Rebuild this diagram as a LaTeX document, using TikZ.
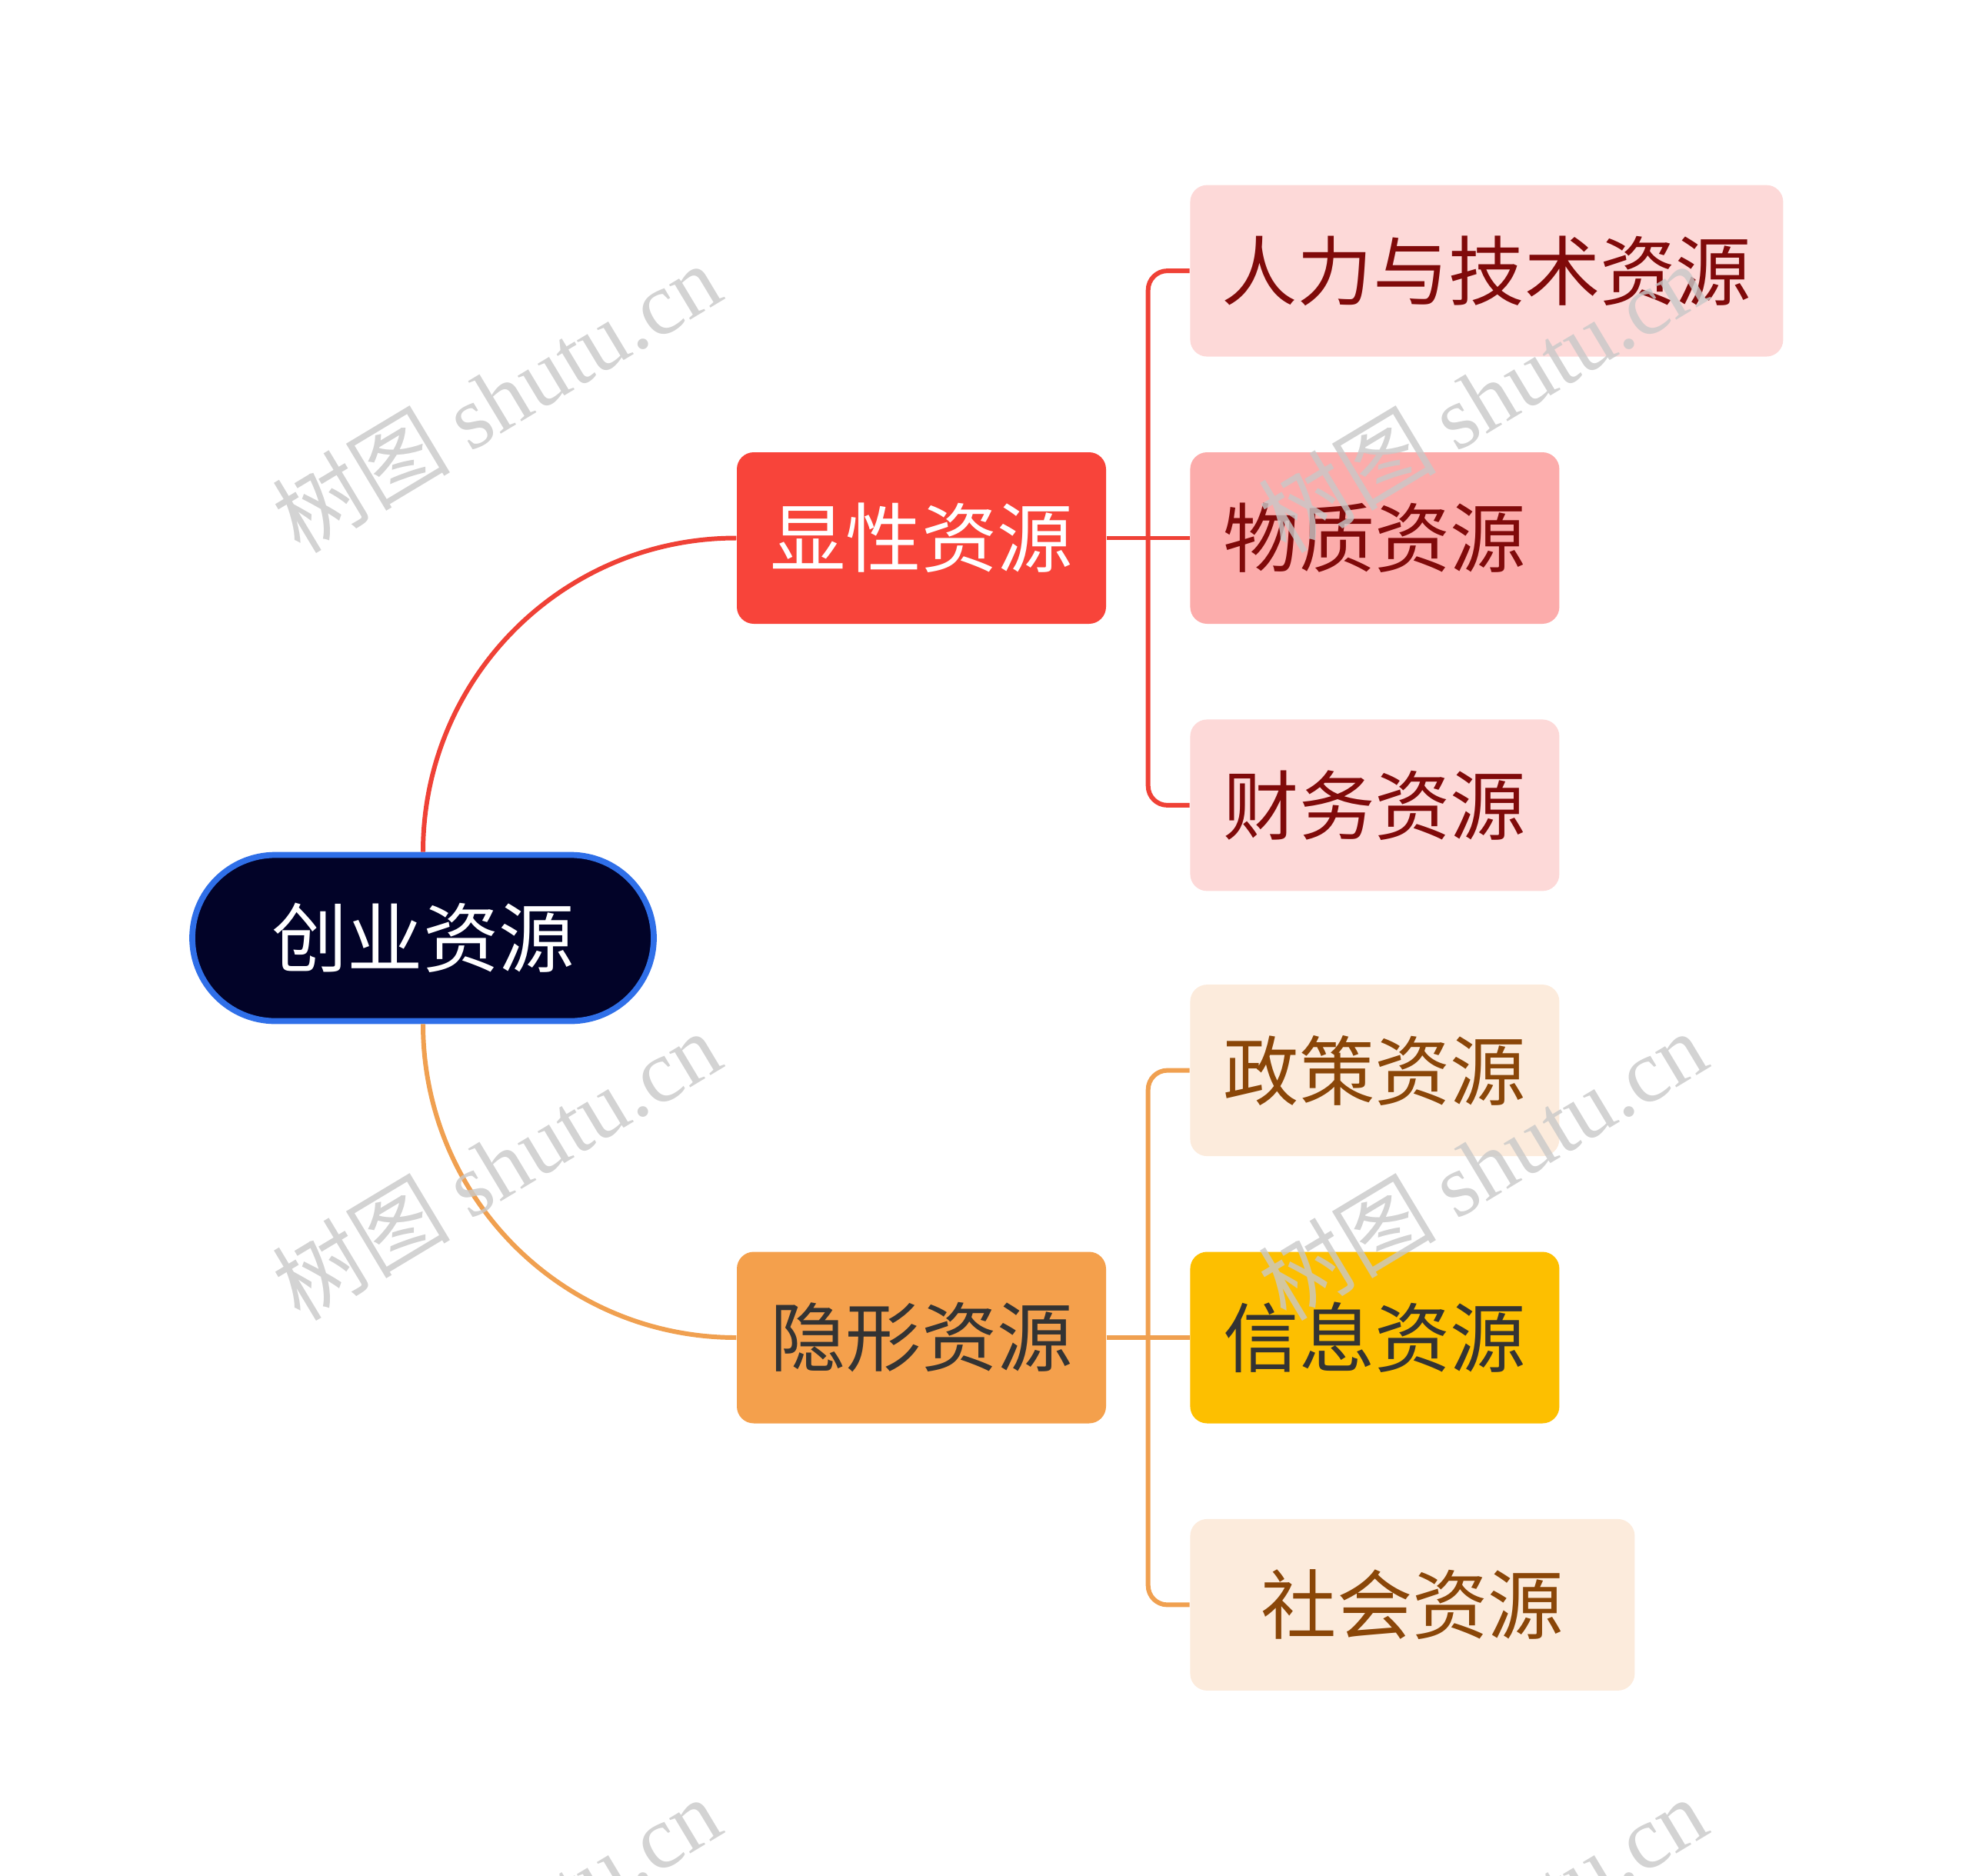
\documentclass[tikz,border=0pt]{standalone}
\usepackage{fontspec}
\setmainfont{Noto Sans CJK SC}
\newfontfamily\markfont{Liberation Serif}
\usetikzlibrary{positioning, calc}

\definecolor{rootnavy}{HTML}{020328}
\definecolor{rootblue}{HTML}{2F6FE8}
\definecolor{xianred}{HTML}{F8443A}
\definecolor{lightred}{HTML}{FDD9D8}
\definecolor{midred}{HTML}{FCACAB}
\definecolor{darkred}{HTML}{800A0A}
\definecolor{yinorange}{HTML}{F4A04C}
\definecolor{lightorange}{HTML}{FCEBDC}
\definecolor{brownish}{HTML}{8A4608}
\definecolor{infoyellow}{HTML}{FDBF00}
\definecolor{darktext}{HTML}{333333}
\definecolor{linered}{HTML}{EF4136}
\definecolor{lineorange}{HTML}{F0A050}
\definecolor{markgray}{HTML}{C8C8C8}

\begin{document}
\begin{tikzpicture}[
        font=\fontsize{28}{32}\selectfont,
        root_box/.style={
            draw=rootblue,
            line width=2.2pt,
            fill=rootnavy,
            text=white,
            minimum width=6.0cm,
            minimum height=2.16cm,
            rounded corners=1.08cm
        },
        res_box/.style={
            rectangle,
            rounded corners=0.22cm,
            minimum width=4.8cm,
            minimum height=2.23cm
        },
        red_line/.style={
            draw=linered,
            line width=1.7pt,
            rounded corners=0.25cm
        },
        orange_line/.style={
            draw=lineorange,
            line width=1.7pt,
            rounded corners=0.25cm
        },
        mark_text/.style={
            text=markgray,
            text opacity=0.8,
            rotate=31,
            font=\fontsize{33}{38}\selectfont
        }
    ]
        \useasboundingbox (0,0) rectangle (25.6,-24.39);

        % root and the two branches
        \node[root_box] (root) at (5.50,-12.195) {创业资源};
        \node[res_box, fill=xianred, text=white] (xian) at (11.98,-6.995) {显性资源};
        \node[res_box, fill=yinorange, text=darktext] (yin) at (11.98,-17.39) {隐形资源};

        % explicit resources
        \node[res_box, fill=midred, text=darkred, right=1.08cm of xian] (wuzhi) {物质资源};
        \node[res_box, fill=lightred, text=darkred, minimum width=7.71cm,
              above=1.23cm of wuzhi.north west, anchor=south west] (renli) {人力与技术资源};
        \node[res_box, fill=lightred, text=darkred,
              below=1.23cm of wuzhi.south west, anchor=north west] (caiwu) {财务资源};

        % hidden resources
        \node[res_box, fill=infoyellow, text=darktext, right=1.08cm of yin] (xinxi) {信息资源};
        \node[res_box, fill=lightorange, text=brownish,
              above=1.23cm of xinxi.north west, anchor=south west] (zhengce) {政策资源};
        \node[res_box, fill=lightorange, text=brownish, minimum width=5.78cm,
              below=1.23cm of xinxi.south west, anchor=north west] (shehui) {社会资源};

        \coordinate (xian_bar) at ($(xian.east)!0.5!(wuzhi.west)$);
        \coordinate (yin_bar) at ($(yin.east)!0.5!(xinxi.west)$);

        % connectors
        \draw[red_line] (root.north) to[out=90, in=180] (xian.west);
        \draw[orange_line] (root.south) to[out=-90, in=180] (yin.west);

        \draw[red_line] (xian.east) -- (wuzhi.west);
        \draw[red_line] (renli.west) -| (xian_bar |- caiwu.west) -- (caiwu.west);
        \draw[orange_line] (yin.east) -- (xinxi.west);
        \draw[orange_line] (zhengce.west) -| (yin_bar |- shehui.west) -- (shehui.west);

        % watermarks
        \begin{scope}
            \clip (0,0) rectangle (25.6,-24.39);
            \foreach \mx/\my [count=\i] in {6.45/-5.17, 19.27/-5.17, 6.45/-15.15, 19.27/-15.15, 6.45/-25.11, 19.27/-25.11}
                \node[mark_text] (mark\i) at (\mx,\my) {树图 {\markfont shutu.cn}};
        \end{scope}
    \end{tikzpicture}
\end{document}
